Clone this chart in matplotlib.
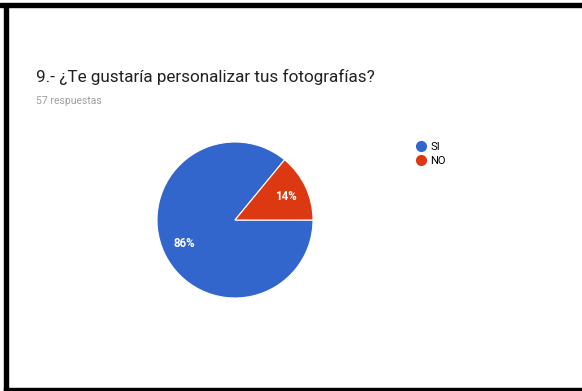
import matplotlib.pyplot as plt
from matplotlib.patches import Rectangle
from matplotlib.lines import Line2D

plt.rcParams['font.family'] = ['Roboto', 'DejaVu Sans']

# respuestas de la encuesta
labels = ["SI", "NO"]
counts = [49, 8]
colors = ["#3366CC", "#DC3912"]
total_responses = 57

W, H = 582, 391
fig = plt.figure(figsize=(W / 100, H / 100), dpi=100)

# marco negro (arriba, izquierda, abajo)
fig.patches.append(Rectangle((0, 1 - 7 / H), 1, 4 / H, transform=fig.transFigure,
                             color="black", zorder=0))
fig.patches.append(Rectangle((4 / W, 0), 4 / W, 1 - 4 / H, transform=fig.transFigure,
                             color="black", zorder=0))
fig.patches.append(Rectangle((4 / W, 0), 1, 3 / H, transform=fig.transFigure,
                             color="black", zorder=0))

fig.text(36 / W, 1 - 82 / H, "9.- ¿Te gustaría personalizar tus fotografías?",
         fontsize=12.3, color="#212121", va="baseline")
fig.text(36 / W, 1 - 104 / H, f"{total_responses} respuestas",
         fontsize=7.5, color="#9e9e9e", va="baseline")

# pastel
cx, cy, r = 235, 220, 78
ax = fig.add_axes([(cx - r) / W, (H - cy - r) / H, 2 * r / W, 2 * r / H])
wedges, texts, autotexts = ax.pie(
    counts, colors=colors, startangle=0, counterclock=False,
    autopct=lambda p: f"{p:.0f}%", pctdistance=0.72,
    wedgeprops=dict(edgecolor="white", linewidth=0.8),
    textprops=dict(color="white", fontsize=8.3, fontweight="bold"))
ax.set_xlim(-1, 1)
ax.set_ylim(-1, 1)
ax.set_aspect("equal")
ax.axis("off")

# leyenda
handles = [Line2D([], [], marker="o", linestyle="", markersize=7,
                  markerfacecolor=c, markeredgecolor=c) for c in colors]
fig.legend(handles, labels, loc="upper left", bbox_to_anchor=(414 / W, 1 - 142 / H),
           frameon=False, fontsize=8, handletextpad=0.25, labelspacing=0.35,
           handlelength=1.2, borderaxespad=0, borderpad=0)

fig.savefig("out.png", dpi=100)
